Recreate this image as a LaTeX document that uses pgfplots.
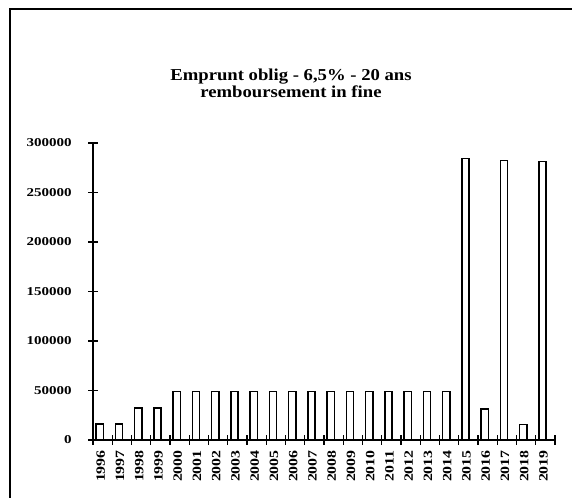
\documentclass[border=0pt]{standalone}
\usepackage{pgfplots}
\pgfplotsset{compat=1.18}
\usepackage{fontspec}
\setmainfont{Liberation Serif}[FakeStretch=1.25]
\newfontfamily\titlefont{Liberation Serif}[FakeStretch=1.12]
\begin{document}
\begin{tikzpicture}
\useasboundingbox (0pt,0pt) rectangle (429pt,373.5pt);
\draw[line width=1.4pt] (7.5pt,0pt) -- (7.5pt,366.75pt) -- (429pt,366.75pt);
\node[align=center,font=\titlefont\bfseries\fontsize{12.5}{12.5}\selectfont] at (218.25pt,311pt) {Emprunt oblig - 6,5\% - 20 ans\\remboursement in fine};
\begin{axis}[
  at={(69.75pt,43.5pt)}, anchor=south west,
  scale only axis,
  width=346.5pt, height=222.75pt,
  xmin=-0.5, xmax=23.5, ymin=0, ymax=300000,
  axis x line*=bottom, axis y line*=left,
  axis line style={line width=1.2pt, -},
  ybar, bar width=5.5pt, bar shift=-2.2pt,
  xtick={0,...,23},
  xticklabels={1996,1997,1998,1999,2000,2001,2002,2003,2004,2005,2006,2007,2008,2009,2010,2011,2012,2013,2014,2015,2016,2017,2018,2019},
  major x tick style={draw=none},
  minor xtick={-0.5,0.5,...,23.5},
  minor tick length=7pt,
  minor tick style={line width=1pt, black},
  ytick={0,50000,100000,150000,200000,250000,300000},
  yticklabels={0,50000,100000,150000,200000,250000,300000},
  major tick length=7pt,
  tick align=center,
  y tick style={line width=1pt, black},
  xticklabel style={rotate=90, anchor=east, font=\bfseries\fontsize{9.5}{10}\selectfont, inner sep=1pt, xshift=-3pt, yshift=1.5pt},
  yticklabel style={font=\bfseries\fontsize{9}{10}\selectfont, xshift=-9pt},
  scaled y ticks=false,
  clip=false,
]
\addplot[draw=black, fill=white, line width=1.1pt] coordinates {
(0,16250) (1,16250) (2,32500) (3,32500) (4,48750) (5,48750) (6,48750) (7,48750)
(8,48750) (9,48750) (10,48750) (11,48750) (12,48750) (13,48750) (14,48750) (15,48750)
(16,48750) (17,48750) (18,48750) (19,284500) (20,31500) (21,282500) (22,15500) (23,281500)
};
\end{axis}
\end{tikzpicture}
\end{document}
